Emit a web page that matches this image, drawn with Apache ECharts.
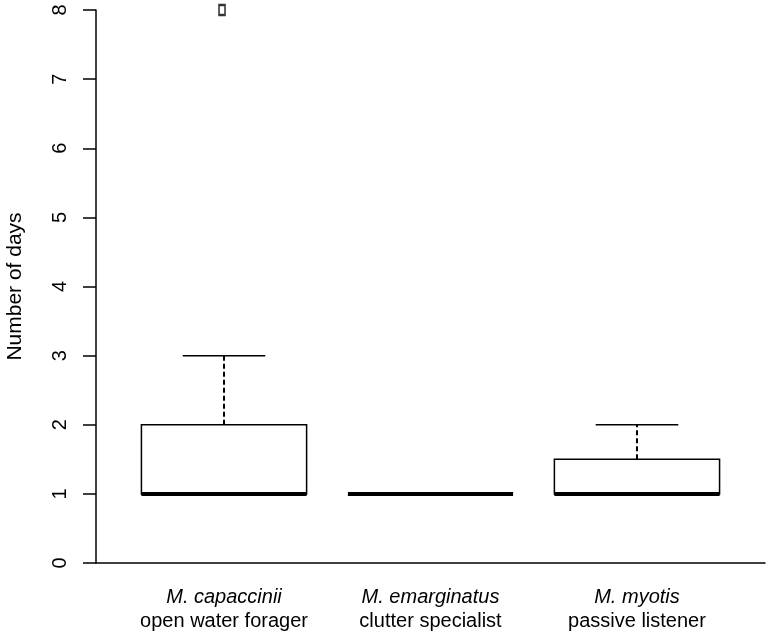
<!DOCTYPE html>
<html>
<head>
<meta charset="utf-8">
<script src="https://cdn.jsdelivr.net/npm/echarts@6/dist/echarts.min.js"></script>
<style>
  html, body { margin: 0; padding: 0; background: #fff; }
  #chart { width: 770px; height: 637px; }
</style>
</head>
<body>
<div id="chart"></div>
<script>
// species and their foraging guild (second label line)
const species = ['M. capaccinii', 'M. emarginatus', 'M. myotis'];
const guilds = ['open water forager', 'clutter specialist', 'passive listener'];

// five-number summaries per species
const whiskerLow = [1, 1, 1];
const q1 = [1, 1, 1];
const medians = [1, 1, 1];
const q3 = [2, 1, 1.5];
const whiskerHigh = [3, 1, 2];

// outliers: [group position, value]
const outliers = [[1, 8]];

const yTicks = [0, 1, 2, 3, 4, 5, 6, 7, 8];

const boxRows = species.map((s, i) => [i + 1, whiskerLow[i], q1[i], medians[i], q3[i], whiskerHigh[i]]);

const FONT = '"Liberation Sans", Arial, Helvetica, sans-serif';
const BOX_HALF = 0.4;   // R boxwex 0.8
const CAP_HALF = 0.2;   // staplewex 0.5

function renderBox(params, api) {
  const x = api.value(0);
  const lo = api.value(1), b1 = api.value(2), med = api.value(3), b3 = api.value(4), hi = api.value(5);
  const children = [];
  const thin = { stroke: '#000', lineWidth: 1.5 };
  const dashed = { stroke: '#000', lineWidth: 2, lineDash: [5, 3] };

  // whiskers
  if (hi > b3) {
    const a = api.coord([x, b3]), b = api.coord([x, hi]);
    children.push({ type: 'line', shape: { x1: a[0], y1: a[1], x2: b[0], y2: b[1] }, style: dashed });
  }
  if (b1 > lo) {
    const a = api.coord([x, b1]), b = api.coord([x, lo]);
    children.push({ type: 'line', shape: { x1: a[0], y1: a[1], x2: b[0], y2: b[1] }, style: dashed });
  }
  // staples
  [hi, lo].forEach((v) => {
    const a = api.coord([x - CAP_HALF, v]), b = api.coord([x + CAP_HALF, v]);
    children.push({ type: 'line', shape: { x1: a[0], y1: a[1], x2: b[0], y2: b[1] }, style: thin });
  });
  // box
  if (b3 > b1) {
    const tl = api.coord([x - BOX_HALF, b3]), br = api.coord([x + BOX_HALF, b1]);
    children.push({
      type: 'rect',
      shape: { x: tl[0], y: tl[1], width: br[0] - tl[0], height: br[1] - tl[1] },
      style: { fill: '#fff', stroke: '#000', lineWidth: 1.5 }
    });
  }
  // median
  const m1 = api.coord([x - BOX_HALF, med]), m2 = api.coord([x + BOX_HALF, med]);
  children.push({
    type: 'line',
    shape: { x1: m1[0], y1: m1[1], x2: m2[0], y2: m2[1] },
    style: { stroke: '#000', lineWidth: 4 }
  });

  return { type: 'group', children };
}

const chart = echarts.init(document.getElementById('chart'));

chart.setOption({
  animation: false,
  backgroundColor: '#fff',
  textStyle: { fontFamily: FONT },
  grid: { left: 96, right: 5, top: 10, bottom: 74, containLabel: false, outerBoundsMode: 'none' },
  xAxis: {
    type: 'value',
    min: 0.38,
    max: 3.62,
    splitLine: { show: false },
    axisTick: { show: false },
    axisLine: { show: true, lineStyle: { color: '#000', width: 1.5 } },
    axisLabel: {
      customValues: [1, 2, 3],
      margin: 22,
      color: '#000',
      formatter: (v) => {
        const i = Math.round(v) - 1;
        return '{sp|' + species[i] + '}\n{gd|' + guilds[i] + '}';
      },
      rich: {
        sp: { fontStyle: 'italic', fontSize: 20, lineHeight: 24, color: '#000', fontFamily: FONT },
        gd: { fontSize: 20, lineHeight: 24, color: '#000', fontFamily: FONT }
      }
    }
  },
  yAxis: {
    type: 'value',
    min: yTicks[0],
    max: yTicks[yTicks.length - 1],
    interval: 1,
    name: 'Number of days',
    nameLocation: 'middle',
    nameGap: 70,
    nameRotate: 90,
    nameTextStyle: { color: '#000', fontSize: 21, fontFamily: FONT },
    splitLine: { show: false },
    axisLine: { show: true, lineStyle: { color: '#000', width: 1.5 } },
    axisTick: { show: true, length: 13, lineStyle: { color: '#000', width: 1.5 } },
    axisLabel: { rotate: 90, margin: 26, fontSize: 20, color: '#000', fontFamily: FONT }
  },
  series: [
    {
      type: 'custom',
      renderItem: renderBox,
      encode: { x: 0, y: [1, 2, 3, 4, 5] },
      data: boxRows,
      z: 2
    },
    {
      type: 'scatter',
      data: outliers,
      symbol: 'rect',
      symbolSize: [6, 10],
      symbolOffset: [-2, 0],
      clip: false,
      itemStyle: { color: '#fff', borderColor: '#000', borderWidth: 2 },
      z: 3
    }
  ]
});
</script>
</body>
</html>
